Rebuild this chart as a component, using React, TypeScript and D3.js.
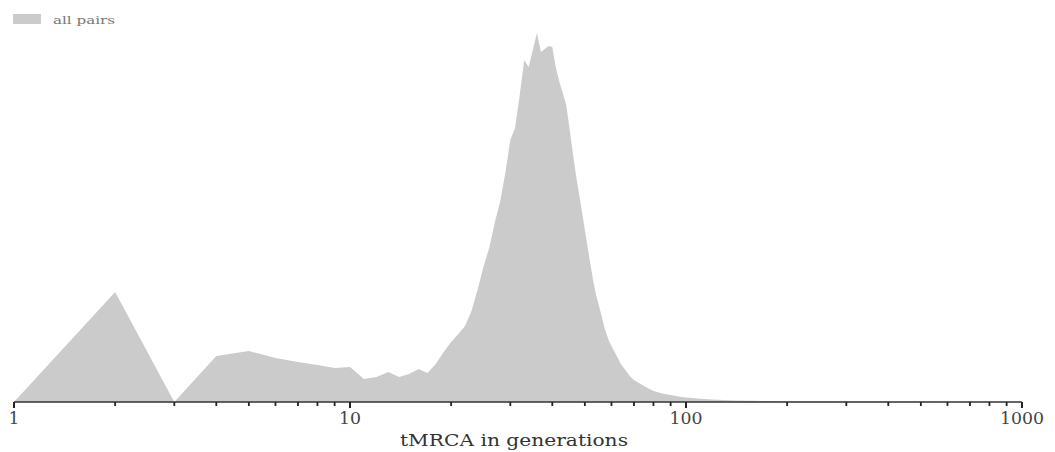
import React from "react";
import * as d3 from "d3";

const generations = [1,2,3,4,5,6,7,8,9,10,11,12,13,14,15,16,17,18,19,20,21,22,23,24,25,26,27,28,29,30,31,32,33,34,35,36,37,38,39,40,41,42,43,44,45,46,47,48,49,50,51,52,53,54,55,56,57,58,59,60,62,64,66,68,70,75,80,85,90,95,100,110,120,140,160,200,300,500,1000];
const allPairs = [0,110,0,46,51,44,40,37,34,35,23,25,30,25,28,33,29,38,50,60,68,76,91,113,136,155,180,201,229,262,274,307,342,335,352,369,350,353,356,355,334,320,309,297,274,250,228,209,191,172,154,137,120,107,97,87,76,68,61,56,47,38,32,26,22,16,11,8.5,7,5.5,4.5,3.3,2.5,1.6,1.2,0.8,0.4,0.2,0];
const majorTicks = [1, 10, 100, 1000];
const seriesName = "all pairs";
const axisTitle = "tMRCA in generations";

const W = 1055, H = 452;
const left = 14, right = 1022, baseline = 402, top = 33;

export default function App() {
  const x = d3.scaleLog().domain([1, 1000]).range([left, right]);
  const y = d3.scaleLinear().domain([0, 369]).range([baseline, top]);
  const data = generations.map((g, i) => ({ g, v: allPairs[i] }));
  const area = d3.area<{ g: number; v: number }>()
    .x(d => x(d.g))
    .y0(y(0))
    .y1(d => y(d.v))
    .curve(d3.curveLinear);
  const ticks = x.ticks();
  const font = "'DejaVu Serif', serif";
  return (
    <svg width={W} height={H} style={{ position: "absolute", left: 0, top: 0, background: "#fff" }}>
      <path d={area(data) || ""} fill="#cbcbcb" />
      <line x1={left} x2={right} y1={baseline} y2={baseline} stroke="#333" strokeWidth={1.5} />
      {ticks.map((t, i) => {
        const major = majorTicks.includes(t);
        return (
          <line key={i} x1={x(t)} x2={x(t)} y1={baseline} y2={baseline + (major ? 6 : 4)}
            stroke="#222" strokeWidth={major ? 2 : 1.8} />
        );
      })}
      {majorTicks.map((t, i) => (
        <text key={i} x={x(t)} y={424} textAnchor="middle" fontFamily={font} fontSize={16} fill="#444"
          textLength={String(t).length * 11} lengthAdjust="spacingAndGlyphs">{t}</text>
      ))}
      <text x={514} y={446} textAnchor="middle" fontFamily={font} fontSize={16} fill="#333"
        textLength={228} lengthAdjust="spacingAndGlyphs">{axisTitle}</text>
      <rect x={13} y={14} width={28} height={10} fill="#cbcbcb" />
      <text x={53} y={24} fontFamily={font} fontSize={11} fill="#777"
        textLength={62} lengthAdjust="spacingAndGlyphs">{seriesName}</text>
    </svg>
  );
}
